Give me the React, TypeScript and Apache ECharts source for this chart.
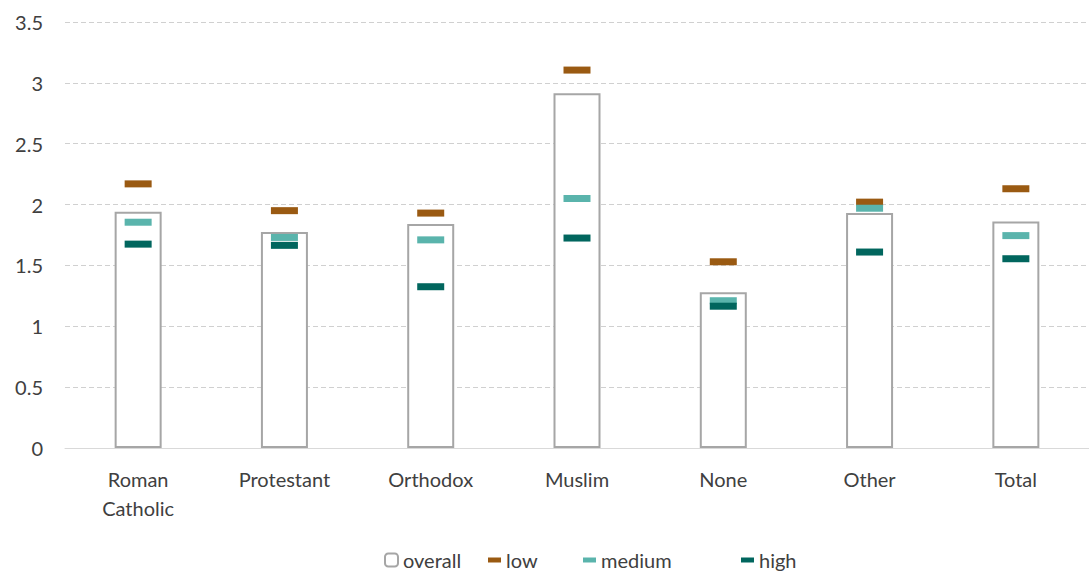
import React, { useEffect, useRef } from "react";
import * as echarts from "echarts";

const categories = ["Roman\nCatholic", "Protestant", "Orthodox", "Muslim", "None", "Other", "Total"];
const overall = [1.94, 1.775, 1.84, 2.915, 1.28, 1.93, 1.86];
const low = [2.17, 1.95, 1.93, 3.105, 1.53, 2.02, 2.13];
const medium = [1.855, 1.73, 1.71, 2.05, 1.21, 1.97, 1.745];
const high = [1.675, 1.665, 1.325, 1.725, 1.165, 1.61, 1.555];

const FONT = "Lato, 'Open Sans', sans-serif";
const TEXT = "#404040";

export default function App() {
  const ref = useRef<HTMLDivElement>(null);
  useEffect(() => {
    if (!ref.current) return;
    const chart = echarts.init(ref.current, undefined, { renderer: "svg" });
    const markerSeries = (name: string, data: number[], color: string) => ({
      name,
      type: "scatter",
      data,
      symbol: "rect",
      symbolSize: [27, 7],
      itemStyle: { color, opacity: 1 },
      z: 5,
    });
    const legendText = { fontSize: 20, color: TEXT, fontFamily: FONT };
    const dashLegend = (name: string, left: number) => ({
      left,
      top: 550,
      padding: 0,
      itemWidth: 13,
      itemHeight: 5,
      textStyle: legendText,
      data: [name],
    });
    chart.setOption({
      animation: false,
      backgroundColor: "#fff",
      textStyle: { fontFamily: FONT },
      grid: { left: 65, top: 22, width: 1029, height: 426, containLabel: false },
      legend: [
        {
          left: 384,
          top: 550,
          padding: 0,
          itemWidth: 13,
          itemHeight: 13,
          textStyle: legendText,
          data: [{ name: "overall", itemStyle: { color: "#fff", borderColor: "#a6a6a6", borderWidth: 2 } }],
        },
        dashLegend("low", 488),
        dashLegend("medium", 583),
        dashLegend("high", 741),
      ],
      xAxis: {
        type: "category",
        data: categories,
        axisTick: { show: false },
        axisLine: { lineStyle: { color: "#d9d9d9", width: 1 } },
        axisLabel: { fontSize: 20, color: TEXT, margin: 16, lineHeight: 29, fontFamily: FONT },
      },
      yAxis: {
        type: "value",
        min: 0,
        max: 3.5,
        interval: 0.5,
        axisLabel: { fontSize: 20, color: TEXT, margin: 22, fontFamily: FONT },
        splitLine: { lineStyle: { color: "#d0d0d0", type: [5, 3], width: 1 } },
        axisLine: { show: false },
        axisTick: { show: false },
      },
      series: [
        {
          name: "overall",
          type: "bar",
          data: overall,
          barWidth: 47,
          itemStyle: { color: "#fff", borderColor: "#a6a6a6", borderWidth: 2 },
          z: 2,
        },
        markerSeries("low", low, "#9a5a12"),
        markerSeries("medium", medium, "#5ab4ac"),
        markerSeries("high", high, "#01665e"),
      ],
    });
    return () => chart.dispose();
  }, []);
  return (
    <div
      ref={ref}
      style={{ position: "fixed", left: 0, top: 0, width: 1089, height: 572, background: "#fff" }}
    />
  );
}
